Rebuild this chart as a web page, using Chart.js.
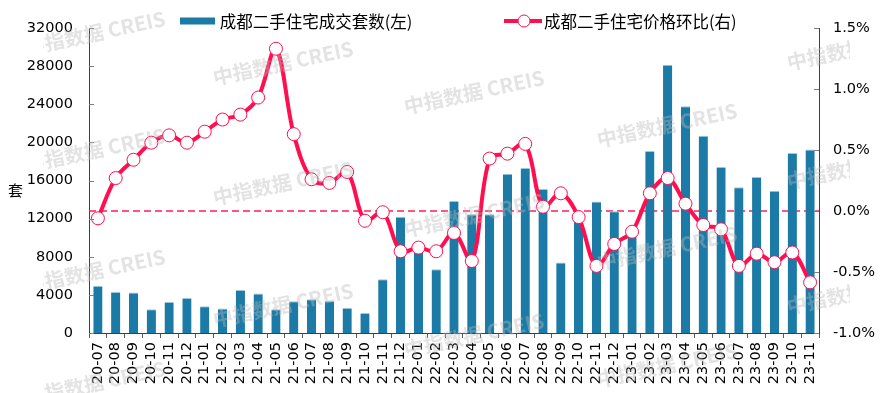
<!DOCTYPE html>
<html>
<head>
<meta charset="utf-8">
<script src="https://cdn.jsdelivr.net/npm/chart.js@4.4.1/dist/chart.umd.min.js"></script>
<style>
  body { margin: 0; background: #fff; }
  #wrap { position: relative; width: 886px; height: 393px; overflow: hidden; }
  .lg { position: absolute; top: 8px; font: 16.5px "Noto Sans CJK SC", sans-serif; color: #000; line-height: 20px; white-space: nowrap; }
  .lg span { vertical-align: middle; }
  .ytitle { position: absolute; left: 8px; top: 179px; font: 15px "Noto Sans CJK SC", sans-serif; color: #000; }
</style>
</head>
<body>
<div id="wrap">
  <canvas id="chart" width="886" height="393"></canvas>
  <div class="lg" style="left:180px">
    <svg width="36" height="8" style="vertical-align:middle"><rect x="0" y="0.5" width="35" height="7" fill="#1b7ba6"/></svg><span> 成都二手住宅成交套数(左)</span>
  </div>
  <div class="lg" style="left:504px">
    <svg width="40" height="16" style="vertical-align:middle"><line x1="0" y1="8" x2="38" y2="8" stroke="#ff0f50" stroke-width="4"/><circle cx="20" cy="8" r="6" fill="#fff" stroke="#ff0f50" stroke-width="1"/></svg><span>成都二手住宅价格环比(右)</span>
  </div>
  <div class="ytitle">套</div>
</div>
<script>
// months 2020-07 .. 2023-11
const months = [
  "20-07", "20-08", "20-09", "20-10", "20-11", "20-12",
  "21-01", "21-02", "21-03", "21-04", "21-05", "21-06", "21-07", "21-08", "21-09", "21-10", "21-11", "21-12",
  "22-01", "22-02", "22-03", "22-04", "22-05", "22-06", "22-07", "22-08", "22-09", "22-10", "22-11", "22-12",
  "23-01", "23-02", "23-03", "23-04", "23-05", "23-06", "23-07", "23-08", "23-09", "23-10", "23-11"
];

// deals (units)
const dealCounts = [
  4950, 4300, 4250, 2500, 3250, 3680,
  2800, 2560, 4520, 4140, 2500, 3330, 3540, 3370, 2630, 2100, 5640, 12200,
  8600, 6700, 13850, 12450, 12450, 16700, 17300, 15100, 7400, 11900, 13800, 12780,
  10700, 19100, 28150, 23800, 20700, 17420, 15280, 16370, 14930, 18890, 19240
];

// month-on-month price change (%)
const priceChange = [
  -0.06, 0.27, 0.42, 0.56, 0.62, 0.56,
  0.65, 0.75, 0.79, 0.93, 1.33, 0.63, 0.26, 0.23, 0.32, -0.08, -0.01, -0.33,
  -0.30, -0.33, -0.18, -0.41, 0.43, 0.47, 0.55, 0.035, 0.145, -0.05, -0.45, -0.27,
  -0.17, 0.145, 0.27, 0.06, -0.115, -0.15, -0.45, -0.35, -0.42, -0.34, -0.585
];

const barColor = "#1b7ba6";
const lineColor = "#ff0f50";
const tickFont = { family: "DejaVu Sans", size: 14.5 };

// inward tick marks on both value axes + dashed zero line
const axisDeco = {
  id: "axisDeco",
  beforeDatasetsDraw(chart) {
    const ctx = chart.ctx;
    const area = chart.chartArea;
    const y0 = chart.scales.y1.getPixelForValue(0);
    ctx.save();
    ctx.strokeStyle = "#ff1f57";
    ctx.lineWidth = 1.5;
    ctx.setLineDash([7, 4]);
    ctx.beginPath();
    ctx.moveTo(area.left, y0);
    ctx.lineTo(area.right, y0);
    ctx.stroke();
    ctx.restore();
  },
  afterDraw(chart) {
    const ctx = chart.ctx;
    const area = chart.chartArea;
    ctx.save();
    ctx.strokeStyle = "#7f7f7f";
    ctx.lineWidth = 1;
    chart.scales.y.ticks.forEach(t => {
      const y = Math.round(chart.scales.y.getPixelForValue(t.value)) + 0.5;
      ctx.beginPath();
      ctx.moveTo(area.left, y);
      ctx.lineTo(area.left + 5, y);
      ctx.stroke();
    });
    chart.scales.y1.ticks.forEach(t => {
      const y = Math.round(chart.scales.y1.getPixelForValue(t.value)) + 0.5;
      ctx.beginPath();
      ctx.moveTo(area.right - 5, y);
      ctx.lineTo(area.right, y);
      ctx.stroke();
    });
    ctx.restore();

    // watermark
    const spots = [
      [95, 33], [95, 150], [95, 271], [95, 383],
      [283, 63], [283, 183], [283, 305],
      [474, 92], [474, 215], [474, 335],
      [667, 125], [667, 248], [667, 365],
      [857, 48], [857, 167], [857, 292]
    ];
    ctx.save();
    ctx.beginPath();
    ctx.rect(43, 0, 807, 393);
    ctx.clip();
    ctx.fillStyle = "rgba(185,185,185,0.4)";
    ctx.font = "bold 20px 'Noto Sans CJK SC', sans-serif";
    ctx.textAlign = "center";
    ctx.textBaseline = "middle";
    spots.forEach(p => {
      ctx.save();
      ctx.translate(p[0], p[1]);
      ctx.rotate(-12 * Math.PI / 180);
      ctx.fillText("中指数据 CREIS", 0, 0);
      ctx.restore();
    });
    ctx.restore();
  }
};

new Chart(document.getElementById("chart"), {
  data: {
    labels: months,
    datasets: [
      {
        type: "line",
        label: "成都二手住宅价格环比(右)",
        data: priceChange,
        yAxisID: "y1",
        borderColor: lineColor,
        borderWidth: 4,
        tension: 0.35,
        pointRadius: 6.5,
        pointBackgroundColor: "#fff",
        pointBorderColor: lineColor,
        pointBorderWidth: 1,
        order: 1
      },
      {
        type: "bar",
        label: "成都二手住宅成交套数(左)",
        data: dealCounts,
        yAxisID: "y",
        backgroundColor: barColor,
        borderColor: "#9cc7db",
        borderWidth: { top: 1, left: 0, right: 0, bottom: 0 },
        barPercentage: 0.52,
        categoryPercentage: 1,
        order: 2
      }
    ]
  },
  options: {
    responsive: false,
    animation: false,
    layout: { padding: { top: 28, left: 0, right: 0, bottom: 0 } },
    plugins: { legend: { display: false }, tooltip: { enabled: false } },
    scales: {
      x: {
        offset: true,
        grid: { offset: true, drawOnChartArea: false, drawTicks: true, tickLength: 5, color: "#595959" },
        border: { display: true, color: "#404040", width: 1 },
        ticks: { autoSkip: false, minRotation: 90, maxRotation: 90, padding: 4, color: "#000", font: tickFont },
        afterFit(s) { s.height = 60; }
      },
      y: {
        position: "left",
        min: 0,
        max: 32000,
        grid: { display: false, drawTicks: false },
        border: { display: true, color: "#404040", width: 1 },
        ticks: { stepSize: 4000, padding: 16, color: "#000", font: tickFont, callback: v => String(v) },
        afterFit(s) { s.width = 89; }
      },
      y1: {
        position: "right",
        min: -1,
        max: 1.5,
        grid: { display: false, drawTicks: false },
        border: { display: true, color: "#404040", width: 1 },
        ticks: { stepSize: 0.5, padding: 14, color: "#000", font: tickFont, callback: v => v.toFixed(1) + "%" },
        afterFit(s) { s.width = 67; }
      }
    }
  },
  plugins: [axisDeco]
});
</script>
</body>
</html>
